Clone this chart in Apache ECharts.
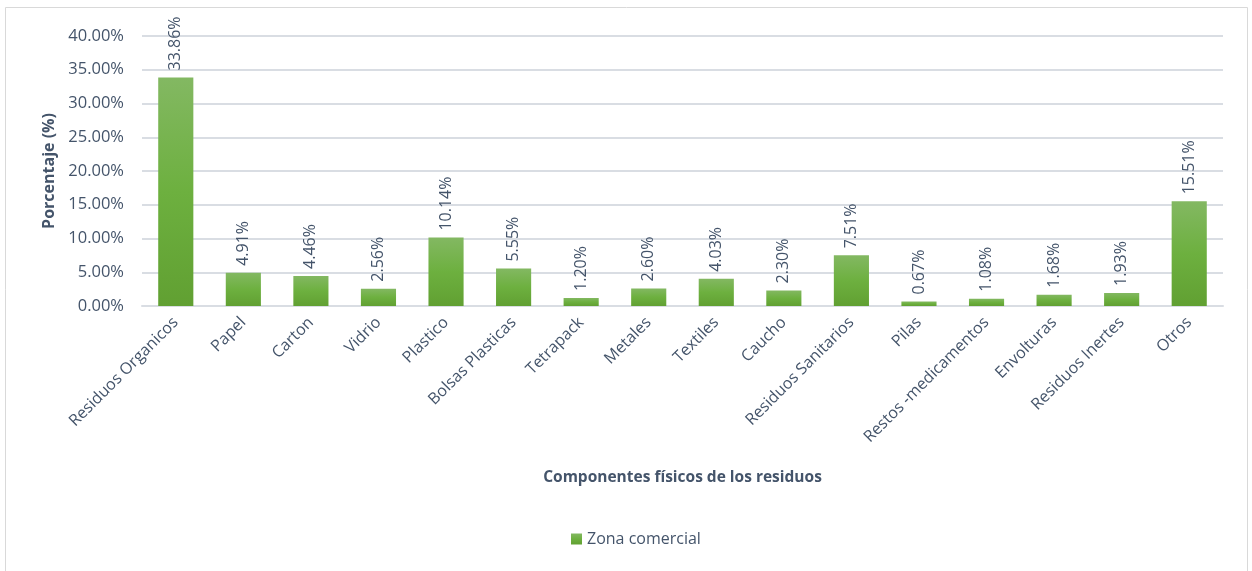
<!DOCTYPE html>
<html>
<head>
<meta charset="utf-8">
<script src="https://cdn.jsdelivr.net/npm/echarts@6/dist/echarts.min.js"></script>
<style>
  html, body { margin: 0; padding: 0; background: #fff; }
  #chart { width: 1252px; height: 571px; }
</style>
</head>
<body>
<div id="chart"></div>
<script>
// Waste composition by physical component, commercial zone
const categories = [
  'Residuos Organicos', 'Papel', 'Carton', 'Vidrio', 'Plastico', 'Bolsas Plasticas',
  'Tetrapack', 'Metales', 'Textiles', 'Caucho', 'Residuos Sanitarios', 'Pilas',
  'Restos -medicamentos', 'Envolturas', 'Residuos Inertes', 'Otros'
];
const zonaComercial = [33.86, 4.91, 4.46, 2.56, 10.14, 5.55, 1.20, 2.60, 4.03, 2.30, 7.51, 0.67, 1.08, 1.68, 1.93, 15.51];
const seriesName = 'Zona comercial';
const xTitle = 'Componentes físicos de los residuos';
const yTitle = 'Porcentaje (%)';

const textColor = '#44546a';
const fontFamily = '"Open Sans", Lato, sans-serif';

const chart = echarts.init(document.getElementById('chart'));
chart.setOption({
  animation: false,
  textStyle: { fontFamily: fontFamily, color: textColor },
  graphic: [{
    type: 'rect',
    shape: { x: 5.5, y: 7.5, width: 1242, height: 600 },
    style: { fill: 'none', stroke: '#d9d9d9', lineWidth: 1 },
    silent: true
  }],
  grid: { left: 142, right: 29, top: 36, bottom: 265 },
  legend: {
    bottom: 19,
    left: 566,
    itemWidth: 11,
    itemHeight: 11,
    itemGap: 4,
    icon: 'rect',
    textStyle: { color: textColor, fontSize: 16, fontFamily: fontFamily },
    data: [seriesName]
  },
  xAxis: {
    type: 'category',
    data: categories,
    name: xTitle,
    nameLocation: 'middle',
    nameGap: 164,
    nameTextStyle: { fontWeight: 'bold', fontSize: 15.5, color: textColor },
    axisLine: { lineStyle: { color: '#d9dde3', width: 2 } },
    axisTick: { show: false },
    axisLabel: { rotate: 45, margin: 14, color: textColor, fontSize: 16, interval: 0 }
  },
  yAxis: {
    type: 'value',
    min: 0,
    max: 40,
    interval: 5,
    name: yTitle,
    nameLocation: 'middle',
    nameGap: 83,
    nameTextStyle: { fontWeight: 'bold', fontSize: 16, color: textColor },
    axisLine: { show: false },
    axisTick: { show: false },
    axisLabel: { color: textColor, fontSize: 16.5, margin: 18, formatter: v => v.toFixed(2) + '%' },
    splitLine: { lineStyle: { color: '#d9dde3', width: 2 } }
  },
  series: [{
    name: seriesName,
    type: 'bar',
    data: zonaComercial,
    barWidth: '52%',
    itemStyle: {
      color: new echarts.graphic.LinearGradient(0, 0, 0, 1, [
        { offset: 0, color: '#83b862' },
        { offset: 0.5, color: '#6db03f' },
        { offset: 1, color: '#61a032' }
      ])
    },
    label: {
      show: true,
      position: 'top',
      rotate: 90,
      align: 'left',
      verticalAlign: 'middle',
      distance: 7,
      color: textColor,
      fontSize: 16,
      formatter: p => p.value.toFixed(2) + '%'
    }
  }]
});
</script>
</body>
</html>
